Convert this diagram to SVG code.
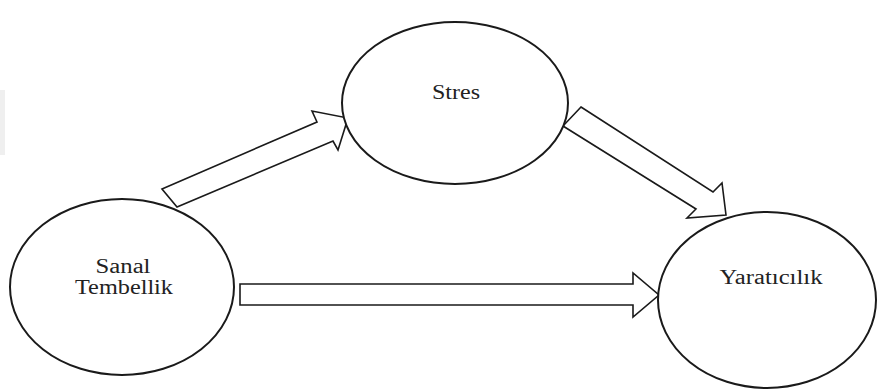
<svg xmlns="http://www.w3.org/2000/svg" width="877" height="390" viewBox="0 0 877 390">
  <style>
    .node { fill: #ffffff; stroke: #1a1a1a; stroke-width: 2; }
    .arrow { fill: #ffffff; stroke: #1a1a1a; stroke-width: 1.6; stroke-linejoin: miter; }
    .label { font-family: "Liberation Serif", "Times New Roman", serif; font-size: 20px; fill: #222222; text-anchor: middle; }
  </style>
  <rect x="0" y="0" width="877" height="390" fill="#ffffff"/>
  <rect x="0" y="90" width="5" height="65" fill="#efefef"/>

  <g id="connectors">
    <!-- Sanal Tembellik -> Stres -->
    <polygon class="arrow" points="162,189 317,122 312,111 348,118 338,150 333,141 177,207"/>
    <!-- Stres -> Yaratıcılık -->
    <polygon class="arrow" points="581,107 713,192 722,183 726,215 687,218 696,209 563,126"/>
    <!-- Sanal Tembellik -> Yaratıcılık -->
    <polygon class="arrow" points="240,284 633,284 633,273 659,295 633,317 633,305 240,305"/>
  </g>

  <g id="node-stres">
    <ellipse class="node" cx="455" cy="103" rx="113" ry="81"/>
    <text class="label" x="456" y="99" textLength="48" lengthAdjust="spacingAndGlyphs">Stres</text>
  </g>

  <g id="node-sanal-tembellik">
    <ellipse class="node" cx="122" cy="287" rx="112" ry="88"/>
    <text class="label" x="123" y="273" textLength="55" lengthAdjust="spacingAndGlyphs">Sanal</text>
    <text class="label" x="124" y="294" textLength="98" lengthAdjust="spacingAndGlyphs">Tembellik</text>
  </g>

  <g id="node-yaraticilik">
    <ellipse class="node" cx="767" cy="300" rx="109" ry="88"/>
    <text class="label" x="771" y="284" textLength="103" lengthAdjust="spacingAndGlyphs">Yaratıcılık</text>
  </g>
</svg>
